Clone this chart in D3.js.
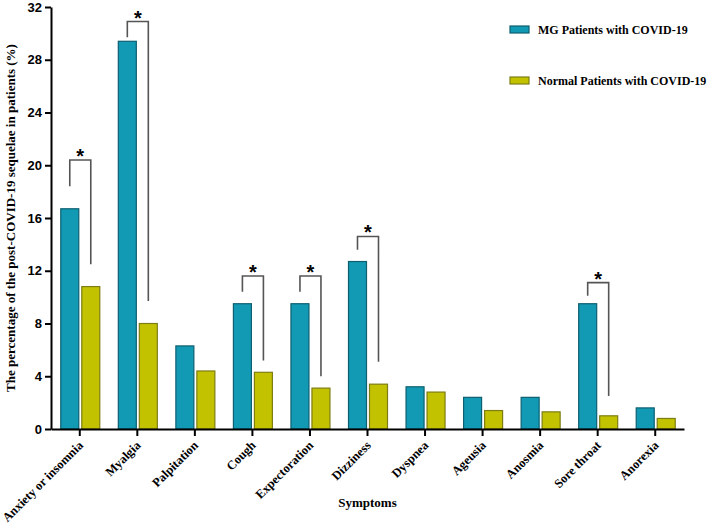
<!DOCTYPE html>
<html>
<head>
<meta charset="utf-8">
<script src="https://cdn.jsdelivr.net/npm/d3@7"></script>
<style>
  body { margin: 0; background: #fff; }
  svg text { font-family: "Liberation Serif", "Times New Roman", serif; font-weight: bold; }
  .y-axis text { font-family: "Liberation Sans", Arial, sans-serif; }
</style>
</head>
<body>
<script>
var categories = ["Anxiety or insomnia", "Myalgia", "Palpitation", "Cough", "Expectoration",
                  "Dizziness", "Dyspnea", "Ageusia", "Anosmia", "Sore throat", "Anorexia"];
var mgValues = [16.7, 29.4, 6.3, 9.5, 9.5, 12.7, 3.2, 2.4, 2.4, 9.5, 1.6];
var normalValues = [10.8, 8.0, 4.4, 4.3, 3.1, 3.4, 2.8, 1.4, 1.3, 1.0, 0.8];
var seriesNames = ["MG Patients with COVID-19", "Normal Patients with COVID-19"];
var yTicks = [0, 4, 8, 12, 16, 20, 24, 28, 32];
// significance brackets: category, bracket top, left leg end, right leg end
var brackets = [
  {cat: "Anxiety or insomnia", top: 20.4, left: 18.4, right: 12.5},
  {cat: "Myalgia", top: 30.9, left: 29.7, right: 9.7},
  {cat: "Cough", top: 11.6, left: 10.4, right: 5.2},
  {cat: "Expectoration", top: 11.6, left: 10.4, right: 4.0},
  {cat: "Dizziness", top: 14.6, left: 13.6, right: 5.1},
  {cat: "Sore throat", top: 11.1, left: 10.1, right: 2.5}
];

var W = 708, H = 525;
var mLeft = 51, mRight = 684, mTop = 7, mBottom = 429;
var colors = ["#129ab4", "#c2c200"];
var strokes = ["#0d5f70", "#7d7d14"];

var svg = d3.select("body").append("svg")
  .attr("width", W).attr("height", H);

var x = d3.scaleBand().domain(categories).range([mLeft, mRight]);
var y = d3.scaleLinear().domain([0, 32]).range([mBottom, mTop]);
var barW = 18;

var rows = categories.map((c, i) => ({cat: c, mg: mgValues[i], nm: normalValues[i]}));

function cx(cat) { return x(cat) + x.bandwidth() / 2; }

// bars
var g = svg.append("g");
g.selectAll("rect.mg").data(rows).enter().append("rect")
  .attr("class", "mg")
  .attr("x", d => cx(d.cat) - barW - 1)
  .attr("y", d => y(d.mg))
  .attr("width", barW)
  .attr("height", d => y(0) - y(d.mg))
  .attr("fill", colors[0]).attr("stroke", strokes[0]).attr("stroke-width", 1.2);

g.selectAll("rect.nm").data(rows).enter().append("rect")
  .attr("class", "nm")
  .attr("x", d => cx(d.cat) + 2)
  .attr("y", d => y(d.nm))
  .attr("width", barW)
  .attr("height", d => y(0) - y(d.nm))
  .attr("fill", colors[1]).attr("stroke", strokes[1]).attr("stroke-width", 1.2);

// brackets
var b = svg.append("g");
b.selectAll("path").data(brackets).enter().append("path")
  .attr("d", d => {
    var x1 = cx(d.cat) - barW / 2 - 1, x2 = cx(d.cat) + barW / 2 + 2;
    return "M" + x1 + "," + y(d.left) + "V" + y(d.top) + "H" + x2 + "V" + y(d.right);
  })
  .attr("fill", "none").attr("stroke", "#555").attr("stroke-width", 1.6);

b.selectAll("text").data(brackets).enter().append("text")
  .attr("x", d => cx(d.cat) + 0.5)
  .attr("y", d => y(d.top) + 3)
  .attr("text-anchor", "middle")
  .style("font-family", "'Liberation Sans', Arial, sans-serif")
  .style("font-size", "20px")
  .text("*");

// axes
var yAxis = svg.append("g").attr("class", "y-axis")
  .attr("transform", "translate(" + mLeft + ",0)")
  .call(d3.axisLeft(y).tickValues(yTicks).tickSize(6).tickSizeOuter(0).tickPadding(3));
yAxis.selectAll("text").style("font-size", "13px").attr("fill", "#000");
yAxis.selectAll("line").attr("stroke-width", 2);
yAxis.select(".domain").attr("stroke-width", 2);

var xAxis = svg.append("g")
  .attr("transform", "translate(0," + mBottom + ")")
  .call(d3.axisBottom(x).tickSize(7).tickSizeOuter(0));
xAxis.selectAll("line").attr("stroke-width", 2);
xAxis.select(".domain").attr("stroke-width", 2);
xAxis.selectAll("text")
  .style("font-size", "12.5px").attr("fill", "#000")
  .attr("text-anchor", "end")
  .attr("x", 0).attr("y", 0)
  .attr("dy", "0.35em")
  .attr("transform", "translate(1,14) rotate(-45)");

// axis titles
svg.append("text")
  .attr("transform", "translate(15," + 218 + ") rotate(-90)")
  .attr("text-anchor", "middle")
  .style("font-size", "13px")
  .text("The percentage of the post-COVID-19 sequelae in patients (%)");

svg.append("text")
  .attr("x", (mLeft + mRight) / 2).attr("y", 507)
  .attr("text-anchor", "middle")
  .style("font-size", "13px")
  .text("Symptoms");

// legend
var lg = svg.append("g").attr("transform", "translate(510,26)");
var item = lg.selectAll("g").data(seriesNames).enter().append("g")
  .attr("transform", (d, i) => "translate(0," + i * 51 + ")");
item.append("rect")
  .attr("width", 19).attr("height", 7)
  .attr("fill", (d, i) => colors[i]).attr("stroke", (d, i) => strokes[i]).attr("stroke-width", 1.2);
item.append("text")
  .attr("x", 28).attr("y", 8)
  .style("font-size", "12px")
  .text(d => d);
</script>
</body>
</html>
